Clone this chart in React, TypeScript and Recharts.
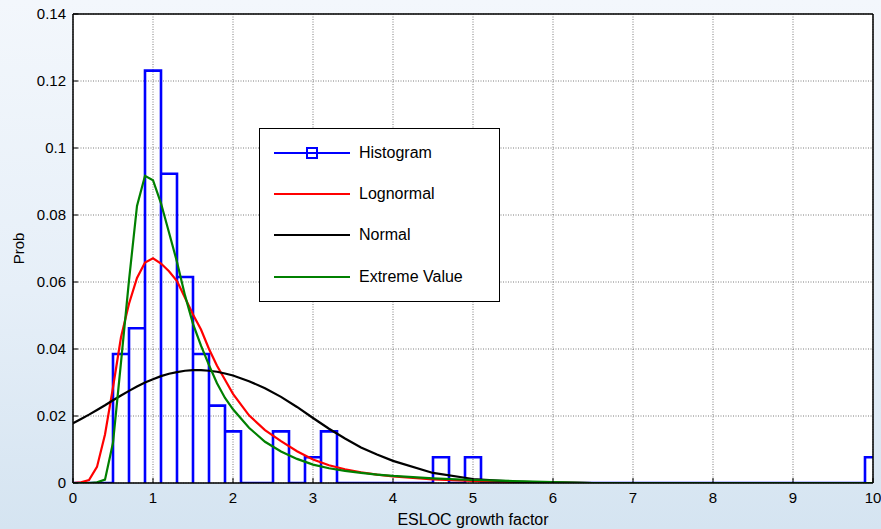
import React from 'react';
import {
  ComposedChart,
  Line,
  XAxis,
  YAxis,
  CartesianGrid,
  Legend,
} from 'recharts';

// histogram bins (width 0.2) and their probabilities
const binStarts = [0.5, 0.7, 0.9, 1.1, 1.3, 1.5, 1.7, 1.9, 2.5, 2.9, 3.1, 4.5, 4.9, 9.9];
const binProbs = [0.0385, 0.0462, 0.1231, 0.0923, 0.0615, 0.0385, 0.0231, 0.0154, 0.0154, 0.0077, 0.0154, 0.0077, 0.0077, 0.0077];
const binWidth = 0.2;

// fitted density curves sampled on a common grid
const curveX = [
  0, 0.1, 0.2, 0.3, 0.4, 0.5, 0.6, 0.7, 0.8, 0.9, 1.0, 1.1, 1.2, 1.3, 1.4, 1.5, 1.6, 1.7, 1.8, 1.9, 2.0,
  2.2, 2.4, 2.6, 2.8, 3.0, 3.2, 3.4, 3.6, 3.8, 4.0, 4.5, 5.0, 5.5, 6.0, 6.5, 7, 8, 9, 10,
];
const lognormal = [
  0, 0.0002, 0.0009, 0.0048, 0.0145, 0.0285, 0.0435, 0.0535, 0.0612, 0.0658, 0.0671, 0.0655, 0.0632, 0.0603, 0.0553, 0.0503, 0.0458, 0.04, 0.035, 0.0308, 0.0266,
  0.0202, 0.0158, 0.0125, 0.0095, 0.007, 0.0053, 0.0041, 0.0032, 0.0025, 0.002, 0.0011, 0.0006, 0.0003, 0.0001, 0, 0, 0, 0, 0,
];
const normal = [
  0.0178, 0.0191, 0.0204, 0.0218, 0.0232, 0.0247, 0.0261, 0.0275, 0.0288, 0.03, 0.031, 0.0319, 0.0326, 0.0331, 0.0335, 0.0337, 0.0337, 0.0335, 0.0332, 0.0327, 0.0321,
  0.0304, 0.0283, 0.0257, 0.0227, 0.0194, 0.0162, 0.0133, 0.0106, 0.0085, 0.0066, 0.003, 0.0012, 0.0004, 0.0001, 0, 0, 0, 0, 0,
];
const extremeValue = [
  0, 0, 0, 0.0002, 0.001, 0.012, 0.036, 0.0605, 0.0827, 0.0917, 0.0904, 0.0835, 0.0748, 0.066, 0.056, 0.0475, 0.041, 0.0352, 0.0298, 0.0254, 0.022,
  0.0165, 0.0123, 0.0094, 0.0072, 0.0055, 0.0044, 0.0036, 0.003, 0.0025, 0.0021, 0.0014, 0.0009, 0.0006, 0.0003, 0, 0, 0, 0, 0,
];

const xTicks = [0, 1, 2, 3, 4, 5, 6, 7, 8, 9, 10];
const yTicks = [0, 0.02, 0.04, 0.06, 0.08, 0.1, 0.12, 0.14];

const legendItems = [
  { name: 'Histogram', color: '#0000ff', marker: true },
  { name: 'Lognormal', color: '#ff0000', marker: false },
  { name: 'Normal', color: '#000000', marker: false },
  { name: 'Extreme Value', color: '#008000', marker: false },
];

const FONT = '"Liberation Sans", Arial, sans-serif';

// outline of every bin, running along the baseline between them
const histOutline: { x: number; y: number }[] = [{ x: 0, y: 0 }];
binStarts.forEach((lo, i) => {
  const hi = lo + binWidth;
  histOutline.push({ x: lo, y: 0 }, { x: lo, y: binProbs[i] }, { x: hi, y: binProbs[i] }, { x: hi, y: 0 });
});

const toPoints = (ys: number[]) => curveX.map((x, i) => ({ x, y: ys[i] }));
const lognormalPts = toPoints(lognormal);
const normalPts = toPoints(normal);
const extremePts = toPoints(extremeValue);

const renderLegend = () => (
  <div
    style={{
      width: 241,
      height: 174,
      boxSizing: 'border-box',
      border: '1.5px solid #000',
      background: '#fff',
      position: 'relative',
      fontFamily: FONT,
      fontSize: 16,
      color: '#000',
    }}
  >
    {legendItems.map((item, i) => (
      <div
        key={item.name}
        style={{
          position: 'absolute',
          left: 14,
          top: 13 + i * 41.2,
          height: 22,
          display: 'flex',
          alignItems: 'center',
          whiteSpace: 'nowrap',
        }}
      >
        <svg width={76} height={22}>
          <line x1={0} y1={11} x2={76} y2={11} stroke={item.color} strokeWidth={2.2} />
          {item.marker && (
            <rect x={33} y={6} width={10} height={10} fill="none" stroke={item.color} strokeWidth={2} />
          )}
        </svg>
        <span style={{ marginLeft: 9 }}>{item.name}</span>
      </div>
    ))}
  </div>
);

const tickStyle = { fontSize: 15, fill: '#000', fontFamily: FONT };

export default function App() {
  return (
    <div
      style={{
        position: 'absolute',
        left: 0,
        top: 0,
        width: 881,
        height: 529,
        background: 'linear-gradient(180deg, #f3f7fc 0%, #e6eff8 55%, #d5e4f1 100%)',
      }}
    >
      <ComposedChart
        width={881}
        height={529}
        margin={{ top: 13, right: 7, bottom: 0, left: 0 }}
        style={{ fontFamily: FONT }}
      >
        <CartesianGrid fill="#ffffff" stroke="#5a5a5a" strokeWidth={0.8} strokeDasharray="1 1.5" />
        <XAxis
          type="number"
          dataKey="x"
          domain={[0, 10]}
          ticks={xTicks}
          allowDataOverflow
          height={46}
          tickSize={-5}
          tickMargin={14}
          tick={tickStyle}
          axisLine={{ stroke: '#000', strokeWidth: 1.5 }}
          tickLine={{ stroke: '#000' }}
          label={{ value: 'ESLOC growth factor', position: 'insideBottom', offset: 4, fontSize: 16, fill: '#000', fontFamily: FONT }}
        />
        <XAxis
          xAxisId="top"
          orientation="top"
          type="number"
          dataKey="x"
          domain={[0, 10]}
          ticks={xTicks}
          height={1}
          tickSize={-5}
          tick={false}
          axisLine={{ stroke: '#000', strokeWidth: 1.5 }}
          tickLine={{ stroke: '#000' }}
        />
        <YAxis
          type="number"
          domain={[0, 0.14]}
          ticks={yTicks}
          allowDataOverflow
          width={73}
          tickSize={-5}
          tickMargin={12}
          tick={tickStyle}
          axisLine={{ stroke: '#000', strokeWidth: 1.5 }}
          tickLine={{ stroke: '#000' }}
          label={{
            content: (props: any) => {
              const vb = props.viewBox;
              const cx = vb.x + 18;
              const cy = vb.y + vb.height / 2;
              return (
                <text
                  x={cx}
                  y={cy}
                  transform={`rotate(-90 ${cx} ${cy})`}
                  textAnchor="middle"
                  dominantBaseline="central"
                  fontSize={15}
                  fontFamily={FONT}
                  fill="#000"
                >
                  Prob
                </text>
              );
            },
          }}
        />
        <YAxis
          yAxisId="right"
          orientation="right"
          type="number"
          domain={[0, 0.14]}
          ticks={yTicks}
          width={1}
          tickSize={-5}
          tick={false}
          axisLine={{ stroke: '#000', strokeWidth: 1.5 }}
          tickLine={{ stroke: '#000' }}
        />
        <Line
          data={histOutline}
          dataKey="y"
          type="linear"
          stroke="#0000ff"
          strokeWidth={2.6}
          dot={false}
          activeDot={false}
          isAnimationActive={false}
        />
        <Line
          data={lognormalPts}
          dataKey="y"
          type="linear"
          stroke="#ff0000"
          strokeWidth={2.2}
          dot={false}
          activeDot={false}
          isAnimationActive={false}
        />
        <Line
          data={normalPts}
          dataKey="y"
          type="linear"
          stroke="#000000"
          strokeWidth={2.2}
          dot={false}
          activeDot={false}
          isAnimationActive={false}
        />
        <Line
          data={extremePts}
          dataKey="y"
          type="linear"
          stroke="#008000"
          strokeWidth={2.2}
          dot={false}
          activeDot={false}
          isAnimationActive={false}
        />
        <Legend
          layout="vertical"
          align="center"
          verticalAlign="middle"
          content={renderLegend}
          wrapperStyle={{ left: 259, top: 128, width: 241, height: 174 }}
        />
      </ComposedChart>
    </div>
  );
}
